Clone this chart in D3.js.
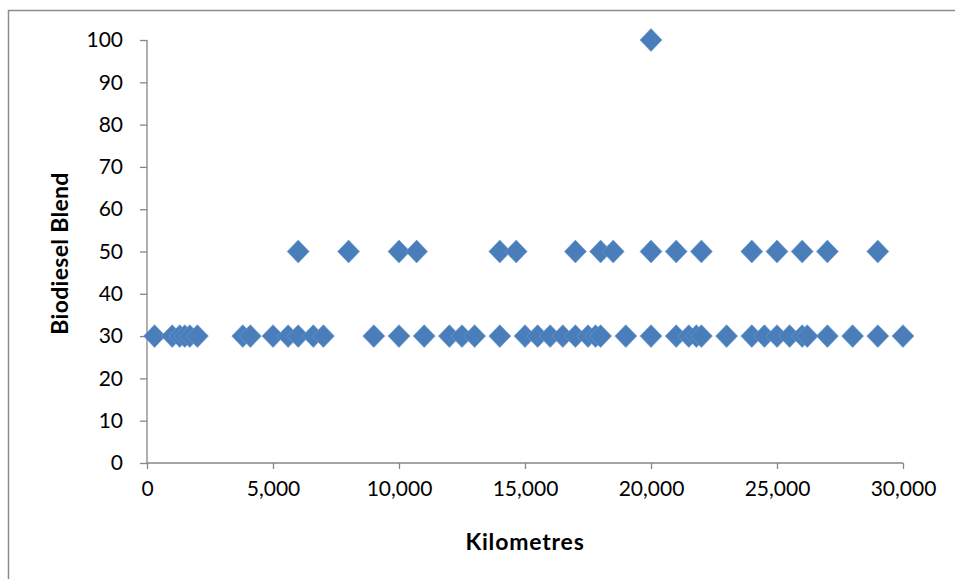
<!DOCTYPE html>
<html>
<head>
<meta charset="utf-8">
<script src="https://cdn.jsdelivr.net/npm/d3@7"></script>
<style>
  html, body { margin: 0; padding: 0; background: #fff; }
  svg { display: block; }
</style>
</head>
<body>
<svg id="chart" width="955" height="579"></svg>
<script>
// ---- Data ----
const km30 = [300, 1000, 1300, 1500, 1700, 2000, 3800, 4100, 5000, 5600, 6000, 6600, 7000,
  9000, 10000, 11000, 12000, 12500, 13000, 14000, 15000, 15500, 16000, 16500, 17000, 17500,
  17800, 18000, 19000, 20000, 21000, 21500, 21800, 22000, 23000, 24000, 24500, 25000, 25500,
  26000, 26200, 27000, 28000, 29000, 30000];
const km50 = [6000, 8000, 10000, 10700, 14000, 14650, 17000, 18000, 18500, 20000, 21000,
  22000, 24000, 25000, 26000, 27000, 29000];
const km100 = [20000];
const xTicks = [0, 5000, 10000, 15000, 20000, 25000, 30000];
const yTicks = [0, 10, 20, 30, 40, 50, 60, 70, 80, 90, 100];
const xTitle = "Kilometres";
const yTitle = "Biodiesel Blend";

const points = [].concat(
  km30.map(k => ({ km: k, blend: 30 })),
  km50.map(k => ({ km: k, blend: 50 })),
  km100.map(k => ({ km: k, blend: 100 }))
);

// ---- Layout ----
const svg = d3.select("#chart");
const axisColor = "#868686";
const markerColor = "#4a7ebb";
const font = "Lato, 'Open Sans', sans-serif";

// outer frame
svg.append("rect")
  .attr("x", 8.5).attr("y", 10.5)
  .attr("width", 1000).attr("height", 1000)
  .attr("fill", "none").attr("stroke", "#8c8c8c").attr("stroke-width", 1.5);

const x = d3.scaleLinear().domain([0, 30000]).range([147, 903]);
const y = d3.scaleLinear().domain([0, 100]).range([463, 40]);

// x axis
const xAxis = svg.append("g")
  .attr("transform", `translate(0,${y(0)})`)
  .call(d3.axisBottom(x).tickValues(xTicks).tickSize(6).tickPadding(12)
    .tickFormat(d3.format(",")));
// y axis
const yAxis = svg.append("g")
  .attr("transform", `translate(${x(0)},0)`)
  .call(d3.axisLeft(y).tickValues(yTicks).tickSize(7).tickPadding(17));

[xAxis, yAxis].forEach(g => {
  g.select(".domain").attr("stroke", axisColor).attr("stroke-width", 1.3);
  g.selectAll(".tick line").attr("stroke", axisColor).attr("stroke-width", 1.3);
  g.selectAll(".tick text")
    .attr("fill", "#000")
    .style("font-family", font)
    .style("font-size", "21px");
});
xAxis.select(".domain").attr("d", `M${x(0)},0H${x(30000)}`);
yAxis.select(".domain").attr("d", `M0,${y(100)}V${y(0)}`);

// axis titles
svg.append("text")
  .attr("x", 525).attr("y", 550)
  .attr("text-anchor", "middle")
  .style("font-family", font).style("font-weight", "bold").style("font-size", "23px")
  .style("letter-spacing", "0.8px")
  .text(xTitle);
svg.append("text")
  .attr("transform", `translate(68,${y(50) + 2}) rotate(-90)`)
  .attr("text-anchor", "middle")
  .style("font-family", font).style("font-weight", "bold").style("font-size", "23px")
  .style("letter-spacing", "0.3px")
  .text(yTitle);

// diamond markers
const diamond = {
  draw(ctx, size) {
    const r = Math.sqrt(size / 2);
    ctx.moveTo(0, -r * 1.04);
    ctx.lineTo(r, 0);
    ctx.lineTo(0, r * 1.04);
    ctx.lineTo(-r, 0);
    ctx.closePath();
  }
};
svg.append("g").selectAll("path")
  .data(points)
  .join("path")
  .attr("transform", d => `translate(${x(d.km)},${y(d.blend)})`)
  .attr("d", d3.symbol().type(diamond).size(2 * 11 * 11))
  .attr("fill", markerColor)
  .attr("stroke", "#6f9bd0")
  .attr("stroke-width", 0.6);
</script>
</body>
</html>
